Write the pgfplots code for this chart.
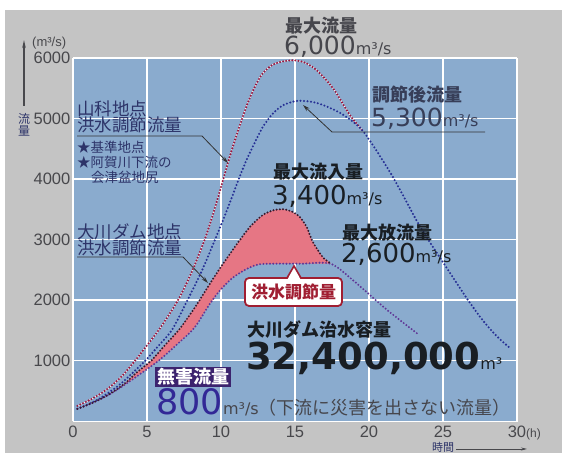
\documentclass[border=0pt]{standalone}
\usepackage{fontspec}
\usepackage{pgfplots}
\usepackage{pgfplotstable}
\pgfplotsset{compat=1.18}
\usetikzlibrary{arrows.meta}
\setmainfont{Liberation Sans}
\newfontfamily\jpfont{Noto Sans CJK JP}
\newfontfamily\djv{DejaVu Sans}
\newcommand{\fsz}[1]{\fontsize{#1}{#1}\selectfont}
\definecolor{bggray}{RGB}{196,196,196}
\definecolor{plotbg}{RGB}{138,171,206}
\definecolor{tickgray}{RGB}{72,72,76}
\definecolor{redc}{RGB}{150,25,65}
\definecolor{bluec}{RGB}{38,48,148}
\definecolor{inflowc}{RGB}{55,25,45}
\definecolor{outflowc}{RGB}{95,55,150}
\definecolor{pinkc}{RGB}{230,118,132}
\definecolor{navytext}{RGB}{45,52,105}
\definecolor{boxred}{RGB}{160,30,50}
\definecolor{boxpurple}{RGB}{60,35,110}
\definecolor{eighthund}{RGB}{50,40,150}
\definecolor{darktext}{RGB}{25,30,35}
\definecolor{midtext}{RGB}{55,62,88}
\definecolor{graytext}{RGB}{70,70,76}

\pgfplotstableread{
t q
0.3 250
1.3 370
2.3 525
3.3 740
4.2 1000
5.0 1250
5.9 1540
7.1 2000
8.0 2450
8.9 3000
9.5 3450
10.1 3950
10.6 4380
11.1 4760
11.75 5220
12.3 5530
12.8 5740
13.5 5890
14.3 5950
15.0 5960
15.7 5920
16.5 5790
17.6 5490
18.7 5060
19.6 4790
}\redtab

\pgfplotstableread{
t q
0.3 200
1.5 330
2.3 450
3.2 610
4.0 790
4.9 1000
5.8 1250
6.7 1510
7.7 1980
8.7 2480
9.6 3000
10.3 3420
10.8 3740
11.2 4000
11.7 4300
12.2 4560
12.8 4850
13.5 5080
14.2 5220
15.1 5290
16.0 5280
16.7 5240
17.5 5160
18.2 5070
19.0 4930
19.6 4790
20.5 4470
21.5 4080
22.3 3730
23.2 3320
24.1 2960
25.2 2550
26.0 2250
26.8 1960
27.7 1660
28.6 1410
29.5 1210
}\bluetab

\pgfplotstableread{
t q
0.3 200
1.5 320
2.5 450
3.5 620
4.3 800
5.3 1000
6.2 1250
7.2 1520
8.3 1900
9.2 2250
10.0 2550
10.6 2760
11.3 3000
12.0 3220
12.8 3400
13.5 3480
14.2 3500
14.8 3460
15.3 3380
15.8 3200
16.2 2960
16.9 2700
17.4 2610
}\inflowtab

\pgfplotstableread{
t q
0.3 200
1.5 320
2.5 445
3.5 600
4.5 770
5.8 1000
7.0 1260
8.2 1540
9.2 1920
9.9 2150
10.8 2370
11.8 2520
12.6 2590
14.0 2600
15.5 2600
17.4 2600
18.9 2330
21.2 1840
23.4 1420
}\outflowtab

% flood-control volume: inflow up to 17.4 h, then outflow back to 0.3 h
\pgfplotstableread{
t q
0.3 200
1.5 320
2.5 450
3.5 620
4.3 800
5.3 1000
6.2 1250
7.2 1520
8.3 1900
9.2 2250
10.0 2550
10.6 2760
11.3 3000
12.0 3220
12.8 3400
13.5 3480
14.2 3500
14.8 3460
15.3 3380
15.8 3200
16.2 2960
16.9 2700
17.4 2610
17.4 2600
15.5 2600
14.0 2600
12.6 2590
11.8 2520
10.8 2370
9.9 2150
9.2 1920
8.2 1540
7.0 1260
5.8 1000
4.5 770
3.5 600
2.5 445
1.5 320
0.3 200
}\pinktab

\begin{document}
\begin{tikzpicture}
\fill[white] (0,0) rectangle (566pt,455pt);
\fill[bggray] (5pt,2pt) rectangle (562pt,445pt);
\begin{axis}[
  at={(73pt,34pt)}, anchor=south west,
  width=444pt, height=363pt, scale only axis,
  xmin=0, xmax=30, ymin=0, ymax=6000,
  axis background/.style={fill=plotbg},
  axis line style={draw=white, line width=0.8pt},
  grid=major, major grid style={draw=white, line width=1.3pt},
  xtick={0,5,...,30}, ytick={1000,2000,...,6000},
  xticklabels={0,5,10,15,20,25,{30\rlap{\fsz{12}(h)}}},
  yticklabels={1000,2000,3000,4000,5000,6000},
  tick style={draw=none},
  /pgf/number format/assume math mode=true,
  ticklabel style={font=\fsz{16.5}, text=tickgray},
  xticklabel style={anchor=north, inner sep=0pt, yshift=-4.5pt},
  yticklabel style={anchor=east, inner sep=0pt, xshift=-2.5pt},
]
\addplot[fill=pinkc, draw=none] table[x=t,y=q] {\pinktab} -- cycle;
\addplot[white!85!pink, line width=0.9pt, smooth] table[x=t,y=q] {\redtab};
\addplot[redc, line width=2.3pt, line cap=round, dash pattern=on 0pt off 3.1pt, smooth] table[x=t,y=q] {\redtab};
\addplot[bluec, line width=2.3pt, line cap=round, dash pattern=on 0pt off 3.5pt, smooth] table[x=t,y=q] {\bluetab};
\addplot[outflowc, line width=2.2pt, line cap=round, dash pattern=on 0pt off 3.3pt, smooth] table[x=t,y=q] {\outflowtab};
\addplot[inflowc, line width=2.2pt, line cap=round, dash pattern=on 0pt off 3.2pt, smooth] table[x=t,y=q] {\inflowtab};
\end{axis}

\begin{scope}[x=1pt, y=-1pt, yshift=455pt]
% y axis arrow and unit
\draw[line width=1.3pt, tickgray, -{Stealth[length=8pt,width=3.5pt]}] (24,106) -- (24,40);
\node[anchor=west, inner sep=0pt, text=tickgray] at (32,43) {\fsz{13}(m³/s)};
\node[inner sep=0pt, text=navytext] at (24,119) {\jpfont\fsz{12}流};
\node[inner sep=0pt, text=navytext] at (24,131) {\jpfont\fsz{12}量};
% x axis label
\node[anchor=west, inner sep=0pt, text=navytext] at (432,447) {\jpfont\fsz{11}時間};
\draw[line width=0.8pt, tickgray, -{Stealth[length=6pt,width=3pt]}] (456,449) -- (527,449);

% max flow
\node[anchor=west, inner sep=0pt, text=graytext] at (285,26) {\jpfont\bfseries\fsz{18}最大流量};
\node[anchor=base west, inner sep=0pt, text=graytext] at (284,55) {\djv\fsz{25}6,000\fsz{16}m³/s};
% regulated
\node[anchor=west, inner sep=0pt, text=midtext] at (372,95) {\jpfont\bfseries\fsz{18}調節後流量};
\node[anchor=base west, inner sep=0pt, text=midtext] at (371,127) {\djv\fsz{25}5,300\fsz{16}m³/s};
\draw[line width=0.8pt, black!80, -{Stealth[length=7pt,width=4pt]}] (485,132) -- (332,132) -- (303,105);
% inflow max
\node[anchor=west, inner sep=0pt, text=darktext] at (273,172) {\jpfont\bfseries\fsz{18}最大流入量};
\node[anchor=base west, inner sep=0pt, text=darktext] at (272,205) {\djv\fsz{26}3,400\fsz{16}m³/s};
% outflow max
\node[anchor=west, inner sep=0pt, text=darktext] at (342,233) {\jpfont\bfseries\fsz{18}最大放流量};
\node[anchor=base west, inner sep=0pt, text=darktext] at (341,263) {\djv\fsz{26}2,600\fsz{16}m³/s};

% Yamashina label
\node[anchor=west, inner sep=0pt, text=navytext] at (77,109) {\jpfont\fsz{17.5}山科地点};
\node[anchor=west, inner sep=0pt, text=navytext] at (77,125) {\jpfont\fsz{17.5}洪水調節流量};
\draw[line width=0.8pt, black!80, -{Stealth[length=7pt,width=4pt]}] (77,136) -- (202,136) -- (228,163);
\node[anchor=west, inner sep=0pt, text=navytext] at (77,147) {\jpfont\fsz{13.5}★基準地点};
\node[anchor=west, inner sep=0pt, text=navytext] at (77,162) {\jpfont\fsz{13.5}★阿賀川下流の};
\node[anchor=west, inner sep=0pt, text=navytext] at (91,177) {\jpfont\fsz{13.5}会津盆地尻};
% Okawa dam label
\node[anchor=west, inner sep=0pt, text=navytext] at (77,232) {\jpfont\fsz{17.5}大川ダム地点};
\node[anchor=west, inner sep=0pt, text=navytext] at (77,248) {\jpfont\fsz{17.5}洪水調節流量};
\draw[line width=0.8pt, black!80, -{Stealth[length=7pt,width=4pt]}] (77,257) -- (183,257) -- (208,283);

% flood control box
\draw[boxred, line width=1.8pt, fill=white, rounded corners=4pt] (245,278) rectangle (342,306);
\fill[white] (287.5,279.3) -- (294,266.5) -- (300.5,279.3) -- cycle;
\draw[boxred, line width=1.6pt, line join=miter] (287,278) -- (294,266) -- (301,278);
\node[inner sep=0pt, text=boxred] at (293.5,292) {\jpfont\bfseries\fsz{17}洪水調節量};

% capacity
\node[anchor=west, inner sep=0pt, text=darktext] at (247,330) {\jpfont\bfseries\fsz{18}大川ダム治水容量};
\node[anchor=base west, inner sep=0pt, text=darktext] at (246,370) {\djv\bfseries\fsz{37}32,400,000\mdseries\fsz{16}m³};

% harmless flow
\node[anchor=west, fill=boxpurple, text=white, inner xsep=2pt, inner ysep=1.2pt] at (155,377) {\jpfont\bfseries\fsz{18}無害流量};
\node[anchor=base west, inner sep=0pt] at (156,415) {\color{eighthund}\djv\fsz{35}800\color{graytext}\fsz{16}m³/s\jpfont\fsz{18}（下流に災害を出さない流量）};
\end{scope}
\end{tikzpicture}
\end{document}
